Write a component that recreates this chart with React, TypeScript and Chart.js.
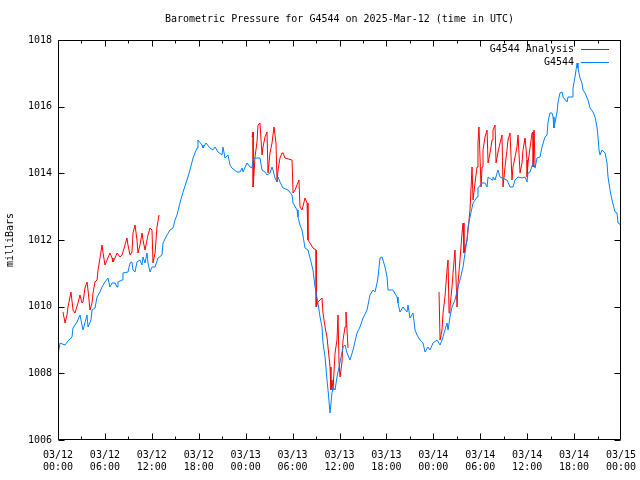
import { useEffect, useRef } from 'react';
import { Chart, registerables } from 'chart.js';

Chart.register(...registerables);

const chartTitle = 'Barometric Pressure for G4544 on 2025-Mar-12 (time in UTC)';
const yAxisTitle = 'milliBars';
const analysisLabel = 'G4544 Analysis';
const stationLabel = 'G4544';

// x tick labels every 6 hours from 03/12 00:00 (hour 0) to 03/15 00:00 (hour 72)
const xTickDates = ['03/12', '03/12', '03/12', '03/12', '03/13', '03/13', '03/13', '03/13', '03/14', '03/14', '03/14', '03/14', '03/15'];
const xTickTimes = ['00:00', '06:00', '12:00', '18:00', '00:00', '06:00', '12:00', '18:00', '00:00', '06:00', '12:00', '18:00', '00:00'];
const yTicks = [1006, 1008, 1010, 1012, 1014, 1016, 1018];

// [hours since 03/12 00:00 UTC, pressure mb]
const g4544: [number, number][] = [
  [0, 1008.55], [0.26, 1008.91], [0.9, 1008.85], [1.28, 1008.97], [1.79, 1009.09], [1.92, 1009.36], [2.43, 1009.54], [2.81, 1009.75], [3.2, 1009.3], [3.71, 1009.75],
  [3.84, 1009.39], [4.22, 1009.6], [4.35, 1009.9], [4.73, 1009.96], [4.99, 1010.29], [5.37, 1010.44], [5.63, 1010.59], [6.01, 1010.74], [6.39, 1010.86], [6.65, 1010.59],
  [6.91, 1010.71], [7.29, 1010.71], [7.55, 1010.59], [7.67, 1010.74], [8.19, 1010.8], [8.31, 1011.01], [8.95, 1011.04], [9.21, 1011.31], [9.46, 1011.34], [9.59, 1011.1],
  [9.85, 1011.04], [10.1, 1011.34], [10.49, 1011.4], [10.74, 1011.25], [10.87, 1011.49], [11.13, 1011.31], [11.38, 1011.61], [11.51, 1011.31], [11.77, 1011.04], [12.02, 1011.19],
  [12.41, 1011.19], [12.79, 1011.46], [13.3, 1011.55], [13.43, 1011.91], [13.94, 1012.15], [14.32, 1012.3], [14.71, 1012.36], [14.96, 1012.6], [15.22, 1012.75], [15.6, 1013.11],
  [15.99, 1013.44], [16.5, 1013.8], [16.88, 1014.1], [17.27, 1014.46], [17.78, 1014.76], [17.9, 1015.0], [18.42, 1014.85], [18.54, 1014.76], [18.93, 1014.91], [19.44, 1014.76],
  [19.82, 1014.7], [20.08, 1014.79], [20.46, 1014.64], [20.97, 1014.55], [21.1, 1014.79], [21.36, 1014.46], [21.74, 1014.55], [22, 1014.25], [22.25, 1014.16], [22.89, 1014.04],
  [23.28, 1014.04], [23.53, 1014.16], [23.66, 1014.04], [24.17, 1014.31], [24.56, 1014.19], [24.81, 1014.16], [24.94, 1014.4], [25.19, 1014.46], [25.83, 1014.46], [26.09, 1014.1],
  [26.47, 1014.04], [26.73, 1013.95], [27.11, 1014.01], [27.37, 1014.19], [27.5, 1014.1], [27.75, 1013.86], [28.01, 1013.74], [28.14, 1013.89], [28.39, 1013.74], [28.78, 1013.56],
  [29.42, 1013.5], [29.93, 1013.35], [30.06, 1013.11], [30.57, 1012.9], [30.69, 1012.69], [30.95, 1012.45], [31.21, 1012.3], [31.59, 1011.76], [31.97, 1011.7], [32.23, 1011.46],
  [32.61, 1011.1], [32.87, 1010.59], [33.25, 1010.11], [33.51, 1009.69], [33.76, 1009.39], [33.89, 1008.91], [34.15, 1008.49], [34.4, 1007.8], [34.53, 1007.5], [34.79, 1006.81],
  [35.04, 1007.41], [35.17, 1007.59], [35.43, 1007.5], [35.68, 1007.89], [36.07, 1008.34], [36.45, 1008.79], [36.71, 1008.85], [36.96, 1008.61], [37.34, 1008.4], [37.73, 1008.7],
  [38.24, 1009.21], [38.62, 1009.39], [39.01, 1009.66], [39.52, 1009.9], [39.9, 1010.35], [40.29, 1010.5], [40.54, 1010.44], [40.8, 1010.71], [40.93, 1010.89], [41.18, 1011.46],
  [41.44, 1011.49], [41.82, 1011.19], [42.08, 1010.89], [42.21, 1010.5], [42.84, 1010.5], [43.36, 1010.29], [43.48, 1010.11], [43.74, 1009.84], [44.12, 1009.99], [44.63, 1009.84],
  [44.76, 1010.05], [45.02, 1009.66], [45.4, 1009.81], [45.66, 1009.3], [45.91, 1009.15], [46.3, 1009.0], [46.68, 1008.91], [46.94, 1008.64], [47.32, 1008.79], [47.58, 1008.7],
  [47.96, 1008.91], [48.47, 1009.0], [48.86, 1008.85], [49.11, 1009.0], [49.49, 1009.3], [49.75, 1009.51], [49.88, 1009.3], [50.13, 1009.69], [50.39, 1009.99], [50.77, 1010.2],
  [51.16, 1010.59], [51.41, 1010.8], [51.8, 1011.19], [52.05, 1011.61], [52.31, 1012.0], [52.44, 1012.39], [52.69, 1012.69], [53.08, 1013.11], [53.59, 1013.29], [53.71, 1013.56],
  [54.23, 1013.71], [54.61, 1013.71], [54.87, 1013.59], [55, 1013.89], [55.51, 1013.8], [55.63, 1013.89], [55.89, 1013.8], [56.27, 1014.1], [56.53, 1013.89], [57.42, 1013.8],
  [57.81, 1013.59], [58.19, 1013.59], [58.45, 1013.8], [58.83, 1013.89], [59.34, 1013.86], [59.73, 1013.89], [59.98, 1013.74], [60.11, 1014.01], [60.37, 1014.04], [60.75, 1014.31],
  [61.01, 1014.16], [61.26, 1014.46], [61.64, 1014.49], [61.9, 1014.79], [62.28, 1015.09], [62.54, 1015.15], [62.67, 1015.54], [62.92, 1015.81], [63.18, 1015.81], [63.31, 1015.69],
  [63.43, 1015.36], [63.82, 1015.84], [63.95, 1016.14], [64.2, 1016.41], [64.46, 1016.44], [64.59, 1016.29], [65.1, 1016.14], [65.23, 1016.29], [65.74, 1016.29], [65.86, 1016.56],
  [66.12, 1016.89], [66.38, 1017.31], [66.5, 1017.16], [66.76, 1016.86], [67.01, 1016.71], [67.14, 1016.5], [67.4, 1016.41], [67.78, 1016.2], [68.04, 1015.96], [68.42, 1015.84],
  [68.68, 1015.69], [68.93, 1015.39], [69.06, 1015.09], [69.19, 1014.7], [69.32, 1014.55], [69.57, 1014.7], [69.96, 1014.61], [70.21, 1014.31], [70.34, 1013.89], [70.6, 1013.5],
  [70.85, 1013.2], [71.24, 1012.84], [71.49, 1012.81], [71.62, 1012.51], [72, 1012.45],
];

const analysisRun1: [number, number][] = [
  [0.64, 1009.84], [0.9, 1009.51], [1.15, 1009.75], [1.28, 1009.99], [1.66, 1010.44], [1.92, 1009.9], [2.17, 1009.81], [2.56, 1010.11], [2.81, 1010.35], [3.07, 1010.11],
  [3.2, 1010.14], [3.45, 1010.56], [3.71, 1010.74], [3.84, 1010.5], [4.09, 1009.9], [4.35, 1010.11], [4.48, 1010.41], [4.73, 1010.74], [4.99, 1010.8], [5.12, 1011.1],
  [5.37, 1011.46], [5.63, 1011.85], [5.76, 1011.61], [6.01, 1011.25], [6.27, 1011.4], [6.65, 1011.61], [6.91, 1011.46], [7.03, 1011.34], [7.29, 1011.46], [7.55, 1011.61],
  [7.93, 1011.49], [8.19, 1011.55], [8.57, 1011.85], [8.82, 1012.06], [8.95, 1011.85], [9.21, 1011.55], [9.46, 1011.64], [9.59, 1012.21], [9.85, 1012.45], [10.1, 1012.0],
  [10.23, 1011.61], [10.49, 1011.85], [10.74, 1012.21], [10.87, 1012.0], [11.13, 1011.7], [11.51, 1012.15], [11.77, 1012.36], [12.02, 1012.3], [12.15, 1011.31], [12.41, 1011.61],
  [12.66, 1012.39], [12.92, 1012.75],
];

const analysisRun2: [number, number][] = [
  [24.81, 1015.09], [24.94, 1015.24], [24.96, 1013.59], [25.19, 1014.49], [25.45, 1014.94], [25.58, 1015.45], [25.83, 1015.51], [26.09, 1014.55], [26.22, 1014.79], [26.47, 1015.09],
  [26.73, 1015.24], [26.86, 1014.01], [27.11, 1014.61], [27.37, 1014.91], [27.62, 1015.39], [27.88, 1014.91], [28.01, 1013.74], [28.14, 1014.1], [28.39, 1014.46], [28.65, 1014.61],
  [28.78, 1014.61], [29.03, 1014.46], [29.93, 1014.4], [30.06, 1013.41], [30.31, 1013.5], [30.82, 1013.8], [30.95, 1012.99], [31.21, 1012.9], [31.59, 1013.26], [31.85, 1013.11],
  [31.97, 1012.0], [32.23, 1011.91], [32.61, 1011.76], [33.0, 1011.7], [33.02, 1009.99], [33.25, 1010.14], [33.76, 1010.26], [33.89, 1009.81], [34.15, 1009.39], [34.4, 1009.09],
  [34.53, 1008.79], [34.66, 1008.49], [34.79, 1008.19], [34.91, 1007.5], [35.04, 1007.8], [35.17, 1007.5], [35.43, 1008.61], [35.68, 1009.0], [35.81, 1009.75], [35.94, 1008.31],
  [36.07, 1007.89], [36.32, 1008.34], [36.45, 1009.0], [36.71, 1009.39], [36.83, 1009.84], [36.96, 1009.3], [37.09, 1008.76],
];

const analysisRun3: [number, number][] = [
  [48.73, 1010.44], [48.86, 1009.0], [49.11, 1009.3], [49.24, 1009.81], [49.49, 1010.29], [49.75, 1011.1], [49.88, 1011.4], [50.01, 1009.81], [50.13, 1009.99], [50.39, 1010.59],
  [50.52, 1011.01], [50.77, 1011.7], [51.03, 1009.99], [51.16, 1010.71], [51.41, 1011.4], [51.67, 1012.21], [51.8, 1012.51], [51.92, 1011.61], [52.31, 1012.0], [52.44, 1012.3],
  [52.69, 1012.9], [52.95, 1014.19], [53.08, 1013.2], [53.33, 1013.71], [53.59, 1014.19], [53.71, 1014.91], [53.84, 1015.39], [54.1, 1013.59], [54.23, 1014.19], [54.35, 1014.7],
  [54.61, 1015.09], [54.87, 1015.3], [55.0, 1014.31], [55.25, 1014.61], [55.51, 1015.0], [55.63, 1015.3], [55.89, 1015.45], [56.02, 1014.31], [56.27, 1014.64], [56.53, 1014.91],
  [56.78, 1015.15], [56.91, 1013.59], [57.17, 1014.19], [57.42, 1014.7], [57.55, 1015.0], [57.81, 1015.21], [58.06, 1013.8], [58.19, 1014.19], [58.45, 1014.49], [58.7, 1014.79],
  [58.83, 1015.15], [59.09, 1014.01], [59.34, 1014.31], [59.47, 1014.7], [59.73, 1015.06], [59.98, 1014.4], [60.0, 1013.89], [60.11, 1014.31], [60.62, 1015.21], [60.75, 1015.24],
  [60.77, 1014.19], [60.88, 1015.3], [61.01, 1014.19],
];

const RED = '#ff0000';
const BLUE = '#0080ff';
const FONT = '"DejaVu Sans Mono", monospace';

const toPoints = (rows: [number, number][]) => rows.map(([x, y]) => ({ x, y }));
const gap = { x: NaN, y: null as number | null };

const framePlugin = {
  id: 'gnuplotFrame',
  afterDatasetsDraw(chart: any) {
    const { ctx, chartArea: a, scales } = chart;
    const L = Math.round(a.left) + 0.5;
    const R = Math.round(a.right) - 0.5;
    const T = Math.round(a.top) + 0.5;
    const B = Math.round(a.bottom) - 0.5;
    ctx.save();
    ctx.strokeStyle = '#000';
    ctx.lineWidth = 1;
    ctx.beginPath();
    ctx.moveTo(L, T);
    ctx.lineTo(R, T);
    ctx.lineTo(R, B);
    ctx.lineTo(L, B);
    ctx.closePath();
    for (const v of yTicks) {
      const y = Math.round(scales.y.getPixelForValue(v)) + 0.5;
      ctx.moveTo(L, y); ctx.lineTo(L + 6, y);
      ctx.moveTo(R, y); ctx.lineTo(R - 6, y);
    }
    for (let h = 0; h <= 72; h += 3) {
      const x = Math.min(Math.round(scales.x.getPixelForValue(h)) + 0.5, R);
      const len = h % 6 === 0 ? 6 : 3;
      ctx.moveTo(x, B); ctx.lineTo(x, B - len);
      ctx.moveTo(x, T); ctx.lineTo(x, T + len);
    }
    ctx.stroke();
    ctx.restore();
  },
  afterDraw(chart: any) {
    const { ctx, chartArea: a } = chart;
    const entries: [string, string][] = [[analysisLabel, RED], [stationLabel, BLUE]];
    ctx.save();
    ctx.font = `10px ${FONT}`;
    ctx.textAlign = 'right';
    ctx.textBaseline = 'middle';
    entries.forEach(([label, color], i) => {
      const y = Math.round(a.top) + 9 + i * 13;
      ctx.fillStyle = '#000';
      ctx.fillText(label, a.right - 47, y);
      ctx.strokeStyle = color;
      ctx.lineWidth = 1;
      ctx.beginPath();
      ctx.moveTo(a.right - 40, y + 0.5);
      ctx.lineTo(a.right - 12, y + 0.5);
      ctx.stroke();
    });
    ctx.restore();
  },
};

export default function App() {
  const ref = useRef<HTMLCanvasElement | null>(null);

  useEffect(() => {
    if (!ref.current) return;
    const chart = new Chart(ref.current, {
      type: 'line',
      data: {
        datasets: [
          {
            label: stationLabel,
            data: toPoints(g4544),
            borderColor: BLUE,
            borderWidth: 1,
            pointRadius: 0,
            tension: 0,
            fill: false,
          },
          {
            label: analysisLabel,
            data: [...toPoints(analysisRun1), gap, ...toPoints(analysisRun2), gap, ...toPoints(analysisRun3)] as any,
            borderColor: RED,
            borderWidth: 1,
            pointRadius: 0,
            tension: 0,
            fill: false,
            spanGaps: false,
          },
        ],
      },
      options: {
        responsive: false,
        animation: false,
        parsing: false as any,
        layout: { padding: { left: 0, right: 19, top: 0, bottom: 0 } },
        plugins: {
          legend: { display: false },
          tooltip: { enabled: false },
          title: {
            display: true,
            text: chartTitle,
            fullSize: false,
            color: '#000',
            font: { family: FONT, size: 10, weight: 'normal', lineHeight: 1.2 },
            padding: { top: 13, bottom: 15 },
          },
        },
        scales: {
          x: {
            type: 'linear',
            min: 0,
            max: 72,
            afterFit: (s: any) => { s.height = 40; s.paddingLeft = 0; s.paddingRight = 0; },
            grid: { display: false, drawTicks: false },
            border: { display: false },
            ticks: {
              stepSize: 6,
              autoSkip: false,
              maxRotation: 0,
              padding: 9,
              color: '#000',
              font: { family: FONT, size: 10, lineHeight: 1.2 },
              callback: (v: any) => {
                const i = Math.round(Number(v) / 6);
                return [xTickDates[i], xTickTimes[i]];
              },
            },
          },
          y: {
            type: 'linear',
            min: 1006,
            max: 1018,
            afterFit: (s: any) => { s.width = 58; s.paddingTop = 0; s.paddingBottom = 0; },
            grid: { display: false, drawTicks: false },
            border: { display: false },
            title: {
              display: true,
              text: yAxisTitle,
              color: '#000',
              font: { family: FONT, size: 10, lineHeight: 1.2 },
              padding: { top: 4, bottom: 0 },
            },
            ticks: {
              stepSize: 2,
              padding: 6,
              color: '#000',
              font: { family: FONT, size: 10, lineHeight: 1.2 },
              callback: (v: any) => String(v),
            },
          },
        },
      },
      plugins: [framePlugin],
    });
    return () => chart.destroy();
  }, []);

  return (
    <div style={{ position: 'fixed', left: 0, top: 0, width: 640, height: 480, background: '#fff' }}>
      <canvas ref={ref} width={640} height={480} />
    </div>
  );
}
